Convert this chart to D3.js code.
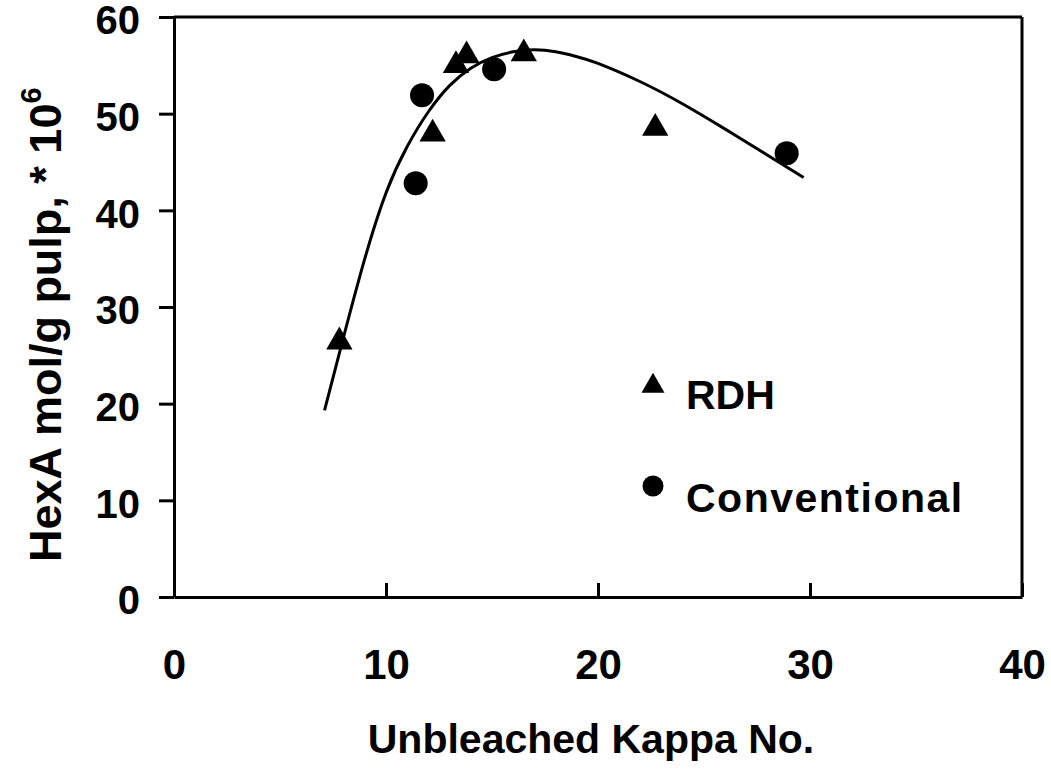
<!DOCTYPE html>
<html>
<head>
<meta charset="utf-8">
<script src="https://cdn.jsdelivr.net/npm/d3@7"></script>
<style>
  body { margin: 0; background: #fff; }
  svg { display: block; }
  text { font-family: "Liberation Sans", Arial, sans-serif; font-weight: bold; fill: #000; }
</style>
</head>
<body>
<svg id="chart" width="1051" height="777"></svg>
<script>
// data
var xTicks = [0, 10, 20, 30, 40];
var yTicks = [0, 10, 20, 30, 40, 50, 60];

var rdhKappa = [7.8, 12.2, 13.3, 13.8, 16.5, 22.7];
var rdhHexA  = [26.4, 47.9, 55.0, 56.0, 56.2, 48.5];

var convKappa = [11.4, 11.7, 15.1, 28.9];
var convHexA  = [42.8, 51.9, 54.6, 45.9];

// fitted trend line
var fitKappa = [7.1, 8, 9, 10, 11, 12, 13, 14, 15, 16, 17, 18, 19, 20, 22, 24, 26, 28, 29.7];
var fitHexA  = [19.3, 26.9, 35.0, 41.8, 46.6, 50.2, 52.9, 54.7, 55.8, 56.4, 56.6, 56.4, 55.9, 55.2, 53.3, 51.0, 48.4, 45.7, 43.4];

var seriesNames = ["RDH", "Conventional"];

(function() {
    var svg = d3.select('#chart');
    var left = 174, right = 1022, top = 17, bottom = 597;

    var x = d3.scaleLinear().domain([0, 40]).range([left, right]);
    var y = d3.scaleLinear().domain([0, 60]).range([bottom, top]);

    // frame: top and right lines
    svg.append('line')
        .attr('x1', x(0)).attr('x2', x(40))
        .attr('y1', y(60)).attr('y2', y(60))
        .attr('stroke', '#000').attr('stroke-width', 3);
    svg.append('line')
        .attr('x1', x(40)).attr('x2', x(40))
        .attr('y1', y(60)).attr('y2', y(0))
        .attr('stroke', '#000').attr('stroke-width', 3);

    var xAxis = d3.axisBottom(x).tickValues(xTicks).tickSize(-14).tickSizeOuter(0).tickPadding(52);
    var yAxis = d3.axisLeft(y).tickValues(yTicks).tickSize(15).tickSizeOuter(0).tickPadding(19);

    var gx = svg.append('g').attr('transform', 'translate(0,' + bottom + ')').call(xAxis);
    var gy = svg.append('g').attr('transform', 'translate(' + left + ',0)').call(yAxis);

    [gx, gy].forEach(function(g) {
        g.selectAll('path.domain').attr('stroke', '#000').attr('stroke-width', 3);
        g.selectAll('.tick line').attr('stroke', '#000').attr('stroke-width', 3);
        g.selectAll('.tick text')
            .attr('fill', '#000')
            .style('font-family', '"Liberation Sans", Arial, sans-serif')
            .style('font-weight', 'bold');
    });
    gx.selectAll('.tick text').style('font-size', '42px');
    gy.selectAll('.tick text').style('font-size', '40px').attr('dy', '0.42em');

    // trend curve
    var fit = fitKappa.map(function(k, i) { return [k, fitHexA[i]]; });
    var line = d3.line()
        .x(function(d) { return x(d[0]); })
        .y(function(d) { return y(d[1]); })
        .curve(d3.curveNatural);
    svg.append('path')
        .datum(fit)
        .attr('d', line)
        .attr('fill', 'none')
        .attr('stroke', '#000')
        .attr('stroke-width', 3);

    var tri = d3.symbol().type(d3.symbolTriangle).size(300);

    var rdh = rdhKappa.map(function(k, i) { return [k, rdhHexA[i]]; });
    svg.selectAll('path.rdh')
        .data(rdh)
        .enter().append('path')
        .attr('class', 'rdh')
        .attr('d', tri)
        .attr('transform', function(d) { return 'translate(' + x(d[0]) + ',' + y(d[1]) + ')'; })
        .attr('fill', '#000');

    var conv = convKappa.map(function(k, i) { return [k, convHexA[i]]; });
    svg.selectAll('circle.conv')
        .data(conv)
        .enter().append('circle')
        .attr('class', 'conv')
        .attr('cx', function(d) { return x(d[0]); })
        .attr('cy', function(d) { return y(d[1]); })
        .attr('r', 12)
        .attr('fill', '#000');

    // legend
    svg.append('path')
        .attr('d', d3.symbol().type(d3.symbolTriangle).size(230))
        .attr('transform', 'translate(653,386)')
        .attr('fill', '#000');
    svg.append('text')
        .attr('x', 686).attr('y', 409)
        .style('font-size', '41px')
        .text(seriesNames[0]);
    svg.append('circle')
        .attr('cx', 653).attr('cy', 486).attr('r', 10.5)
        .attr('fill', '#000');
    svg.append('text')
        .attr('x', 686).attr('y', 512)
        .style('font-size', '41px')
        .style('letter-spacing', '1.5px')
        .text(seriesNames[1]);

    // axis titles
    svg.append('text')
        .attr('x', 591).attr('y', 753)
        .attr('text-anchor', 'middle')
        .style('font-size', '41px')
        .text('Unbleached Kappa No.');

    var yt = svg.append('text')
        .attr('transform', 'translate(61,562) rotate(-90)')
        .style('font-size', '45px');
    yt.append('tspan').text('HexA mol/g pulp, * 10');
    yt.append('tspan')
        .attr('dy', '-0.7em')
        .style('font-size', '29px')
        .text('6');
})();
</script>
</body>
</html>
